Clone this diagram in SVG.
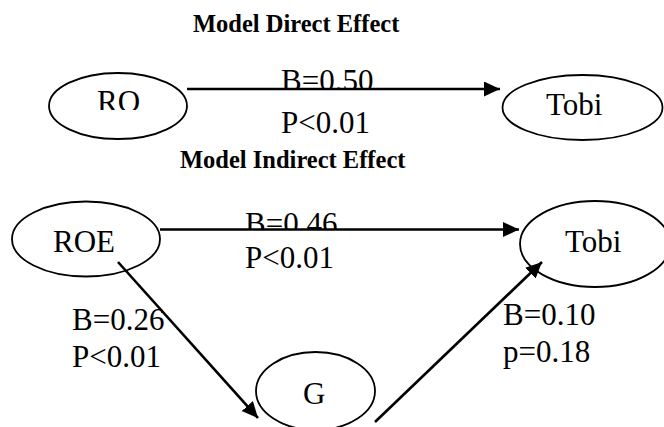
<svg xmlns="http://www.w3.org/2000/svg" width="664" height="427" viewBox="0 0 664 427">
<style>
.t{font-family:"Liberation Serif","Times New Roman",serif;font-size:31px;fill:#000}
.h{font-family:"Liberation Serif","Times New Roman",serif;font-size:24.5px;font-weight:bold;fill:#000}
.n{fill:#fff;stroke:#000;stroke-width:1.8}
.c{stroke:#000;stroke-width:2.6;fill:none}
</style>
<defs>
<marker id="ah" markerUnits="userSpaceOnUse" markerWidth="18" markerHeight="18" refX="16" refY="7.5" orient="auto">
<path d="M0,0 L16,7.5 L0,15 z" fill="#000"/>
</marker>
<clipPath id="cRO"><rect x="0" y="0" width="664" height="110"/></clipPath>
<clipPath id="cB1"><rect x="0" y="0" width="664" height="89"/></clipPath>
<clipPath id="cB2"><rect x="0" y="0" width="664" height="229.5"/></clipPath>
</defs>
<rect width="664" height="427" fill="#fff"/>
<text class="h" x="193" y="32">Model Direct Effect</text>
<text class="h" x="180" y="168">Model Indirect Effect</text>
<g id="RO">
<ellipse class="n" cx="118" cy="106" rx="69" ry="33"/>
<text class="t" x="97" y="112" clip-path="url(#cRO)">RO</text>
</g>
<g id="Tobi1">
<ellipse class="n" cx="582.5" cy="107.5" rx="80" ry="32.5"/>
<text class="t" x="546" y="115">Tobi</text>
</g>
<g id="ROE">
<ellipse class="n" cx="86" cy="239" rx="74" ry="37.5"/>
<text class="t" x="53" y="252">ROE</text>
</g>
<g id="Tobi2">
<ellipse class="n" cx="595" cy="244" rx="75" ry="43"/>
<text class="t" x="565" y="252">Tobi</text>
</g>
<g id="G">
<ellipse class="n" cx="315.5" cy="391" rx="59.5" ry="39"/>
<text class="t" x="303" y="404">G</text>
</g>
<g id="labels">
<text class="t" x="281" y="91" clip-path="url(#cB1)">B=0.50</text>
<text class="t" x="281" y="133">P&lt;0.01</text>
<text class="t" x="245" y="234" clip-path="url(#cB2)">B=0.46</text>
<text class="t" x="245" y="268">P&lt;0.01</text>
<text class="t" x="72" y="330">B=0.26</text>
<text class="t" x="72" y="367">P&lt;0.01</text>
<text class="t" x="503" y="325">B=0.10</text>
<text class="t" x="503" y="362">p=0.18</text>
</g>
<g id="connectors">
<line class="c" x1="187" y1="89" x2="500" y2="89" marker-end="url(#ah)"/>
<line class="c" x1="160" y1="229.5" x2="519" y2="229.5" marker-end="url(#ah)"/>
<line class="c" x1="118" y1="262" x2="258" y2="418" marker-end="url(#ah)"/>
<line class="c" x1="375" y1="422" x2="542" y2="262" marker-end="url(#ah)"/>
</g>
</svg>
